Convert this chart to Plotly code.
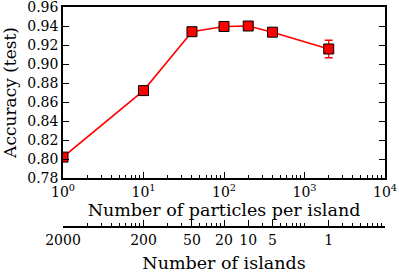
import plotly.graph_objects as go

particles = [1, 10, 40, 100, 200, 400, 2000]
islands_labels = ["2000", "200", "50", "20", "10", "5", "1"]
accuracy = [0.802, 0.872, 0.934, 0.9395, 0.940, 0.9335, 0.9158]
acc_err = [0.001, 0.001, 0.0015, 0.0015, 0.002, 0.004, 0.0092]
y_ticks = [0.78, 0.80, 0.82, 0.84, 0.86, 0.88, 0.90, 0.92, 0.94, 0.96]
x_major = [1, 10, 100, 1000, 10000]
x_major_labels = ["10<sup>0</sup>", "10<sup>1</sup>", "10<sup>2</sup>", "10<sup>3</sup>", "10<sup>4</sup>"]

FONT = "DejaVu Serif"
W, H = 399, 273
ml, mr, mt, mb = 63, 14, 7, 40
ph = H - mt - mb
plot_bottom = 178
sec_axis_y = 227
ydom0 = (H - mb - plot_bottom) / ph
sec_pos = (H - mb - sec_axis_y) / ph

fig = go.Figure()
fig.add_trace(go.Scatter(
    x=particles, y=accuracy,
    error_y=dict(type="data", array=acc_err, color="red", thickness=1.3, width=4),
    mode="lines+markers",
    line=dict(color="red", width=1.6),
    marker=dict(symbol="square", size=10, color="red", line=dict(color="black", width=1)),
    showlegend=False,
))
fig.add_trace(go.Scatter(x=particles, y=accuracy, xaxis="x2", mode="markers",
                         marker=dict(opacity=0), showlegend=False, hoverinfo="skip"))

minor = dict(ticks="inside", ticklen=3, tickcolor="black", dtick="D1", showgrid=False)

fig.update_layout(
    width=W, height=H,
    margin=dict(l=ml, r=mr, t=mt, b=mb, autoexpand=False),
    paper_bgcolor="white", plot_bgcolor="white",
    font=dict(family=FONT, size=14, color="black"),
    xaxis=dict(
        type="log", range=[0, 4], domain=[0, 1], anchor="y", automargin=False,
        tickvals=x_major, ticktext=x_major_labels, ticklabeloverflow="allow",
        ticks="inside", ticklen=6, tickwidth=1, tickcolor="black",
        showline=True, linecolor="black", linewidth=1.5, mirror=True,
        showgrid=False, zeroline=False, minor=minor,
        title=dict(text="Number of particles per island", font=dict(family=FONT, size=17.5), standoff=5),
        tickfont=dict(family=FONT, size=14),
    ),
    xaxis2=dict(
        type="log", range=[0, 4], overlaying="x", anchor="free", position=sec_pos,
        side="bottom", automargin=False, ticklabeloverflow="allow",
        tickvals=particles, ticktext=islands_labels,
        ticks="inside", ticklen=6, tickwidth=1, tickcolor="black",
        showline=True, linecolor="black", linewidth=1.5,
        showgrid=False, zeroline=False, minor=minor,
        title=dict(text="Number of islands", font=dict(family=FONT, size=17.5), standoff=10),
        tickfont=dict(family=FONT, size=14),
    ),
    yaxis=dict(
        range=[0.78, 0.96], domain=[ydom0, 1], automargin=False,
        tickvals=y_ticks, ticktext=[f"{v:.2f}" for v in y_ticks], ticklabeloverflow="allow",
        ticks="inside", ticklen=6, tickwidth=1, tickcolor="black",
        showline=True, linecolor="black", linewidth=1.5, mirror="ticks",
        showgrid=False, zeroline=False,
        title=dict(text="Accuracy (test)", font=dict(family=FONT, size=17), standoff=7),
        tickfont=dict(family=FONT, size=14),
    ),
)

fig.write_html("out.html", config={"displayModeBar": False},
               post_script="document.body.style.margin='0';document.body.style.padding='0';")
